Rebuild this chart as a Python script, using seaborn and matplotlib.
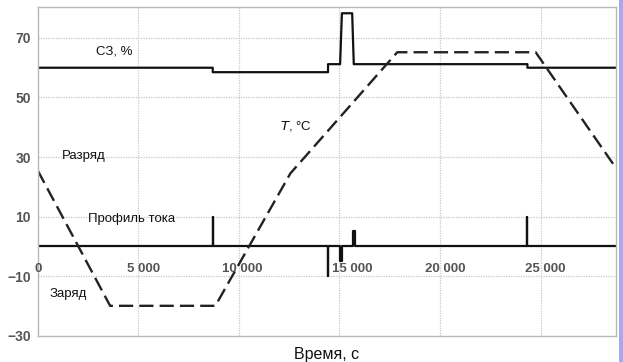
import matplotlib
matplotlib.use("Agg")
import matplotlib.pyplot as plt
import seaborn as sns
import pandas as pd
from matplotlib.patches import Rectangle

# ---- data ----
soc_x = [0, 8700, 8700, 14430, 14430, 15030, 15120, 15630, 15710, 24340, 24340, 28750]
soc_y = [60, 60, 58.5, 58.5, 61.2, 61.2, 78.3, 78.3, 61.2, 61.2, 60, 60]

cur_x = [0, 8700, 8700, 8700, 14430, 14430, 14430, 15040, 15040, 15140, 15140,
         15650, 15650, 15750, 15750, 24340, 24340, 24340, 28750]
cur_y = [0, 0, 10, 0, 0, -10, 0, 0, -5, -5, 0, 0, 5.2, 5.2, 0, 0, 10, 0, 0]

temp_x = [0, 3600, 8830, 12560, 17870, 24750, 28700]
temp_y = [25.5, -20, -20, 24.5, 65.2, 65.2, 26.7]

y_ticks = [-30, -10, 10, 30, 50, 70]
x_grid = [5000, 10000, 15000, 20000, 25000]
x_tick_labels = ["0", "5 000", "10 000", "15 000", "20 000", "25 000"]
x_tick_label_pos = [40, 5250, 10170, 15650, 20270, 25250]

sns.set_theme(style="white")
plt.rcParams['font.family'] = ['Liberation Sans', 'DejaVu Sans']

fig = plt.figure(figsize=(6.23, 3.62), dpi=100)
ax = fig.add_axes([0.0605, 0.073, 0.9285, 0.9068])

grid_kw = dict(color="#c8c8c8", lw=0.9, linestyle=(0, (1, 1)), zorder=0)
for xv in x_grid:
    ax.axvline(xv, **grid_kw)
for yv in y_ticks[1:]:
    ax.axhline(yv, **grid_kw)

sns.lineplot(x=soc_x, y=soc_y, sort=False, estimator=None, color="#111111",
             lw=1.6, ax=ax)
sns.lineplot(x=cur_x, y=cur_y, sort=False, estimator=None, color="#111111",
             lw=1.6, ax=ax)
sns.lineplot(x=temp_x, y=temp_y, sort=False, estimator=None, color="#222222",
             lw=1.7, ax=ax)
ax.lines[-1].set_dashes((6, 2.6))

ax.set_xlim(0, 28750)
ax.set_ylim(-30, 80.3)
ax.set_yticks(y_ticks)
ax.set_yticklabels([f"{v}".replace("-", "\u2212") for v in y_ticks],
                   color="#555555", fontsize=10, fontweight="bold")
ax.set_xticks([])
ax.tick_params(axis="y", direction="out", length=4, width=0.8, color="#b8b8b8", pad=1)
for s in ax.spines.values():
    s.set_color("#b8b8b8")
    s.set_linewidth(1.0)

for lab, xp in zip(x_tick_labels, x_tick_label_pos):
    ax.text(xp, -7.5, lab, ha="center", va="center", fontsize=9.5,
            color="#555555", fontweight="bold")

txt_kw = dict(fontsize=9.5, color="#111111", va="center", ha="left")
ax.text(2900, 65.3, "СЗ, %", **txt_kw)
ax.text(1200, 30.4, "Разряд", **txt_kw)
ax.text(12050, 40.5, "$\\it{T}$, °C", **txt_kw)
ax.text(2500, 9.3, "Профиль тока", **txt_kw)
ax.text(600, -15.9, "Заряд", **txt_kw)

ax.set_xlabel("Время, с", fontsize=11.5, color="#111111", labelpad=8)

fig.add_artist(Rectangle((619 / 623, 0), 4 / 623, 1, transform=fig.transFigure,
                         color="#a8a8f0", lw=0))

fig.savefig("out.png", dpi=100)
